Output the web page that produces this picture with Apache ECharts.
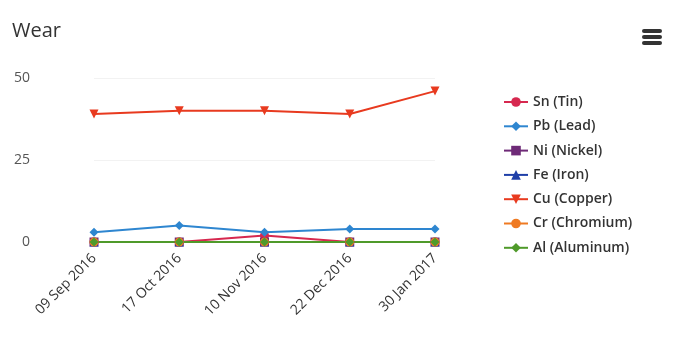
<!DOCTYPE html>
<html><head><meta charset="utf-8">
<script src="https://cdn.jsdelivr.net/npm/echarts@6/dist/echarts.min.js"></script>
<style>html,body{margin:0;padding:0;background:#fff}#c{width:678px;height:339px}</style>
</head><body><div id="c"></div>
<script>
var categories = ['09 Sep 2016','17 Oct 2016','10 Nov 2016','22 Dec 2016','30 Jan 2017'];
var sn = [0,0,2,0,0];
var pb = [3,5,3,4,4];
var ni = [0,0,0,0,0];
var fe = [0,0,0,0,0];
var cu = [39,40,40,39,46];
var cr = [0,0,0,0,0];
var al = [0,0,0,0,0];
var yTicks = [0,25,50];

var defs = [
  ['Sn (Tin)', sn, '#d6284f', 'circle'],
  ['Pb (Lead)', pb, '#2e86d0', 'diamond'],
  ['Ni (Nickel)', ni, '#6e2a77', 'rect'],
  ['Fe (Iron)', fe, '#1f3fa8', 'triangle'],
  ['Cu (Copper)', cu, '#e83a1f', 'path://M0,0 L10,0 L5,10 Z'],
  ['Cr (Chromium)', cr, '#ef7a22', 'circle'],
  ['Al (Aluminum)', al, '#4f9a2a', 'diamond']
];
var series = defs.map(function(d){
  return {name:d[0], type:'line', data:d[1], symbol:d[3], symbolSize:9,
    lineStyle:{width:2,color:d[2]}, itemStyle:{color:d[2]}};
});
var chart = echarts.init(document.getElementById('c'));
chart.setOption({
  animation:false,
  title:{text:'Wear', left:7, top:16, textStyle:{fontSize:20, fontWeight:'normal', color:'#333', fontFamily:'Open Sans'}},
  grid:{left:94, right:243, top:78, bottom:97},
  xAxis:{type:'category', data:categories, boundaryGap:false,
    axisLine:{show:false}, axisTick:{show:false},
    axisLabel:{rotate:45, margin:14, fontSize:14, color:'#333', fontFamily:'Open Sans'}},
  yAxis:{type:'value', min:yTicks[0], max:yTicks[yTicks.length-1], interval:25,
    splitLine:{lineStyle:{color:'#f2f2f2'}},
    axisLabel:{margin:64, fontSize:14, color:'#555', fontFamily:'Open Sans'}},
  legend:{orient:'vertical', left:498, top:90, itemWidth:24, itemHeight:12, itemGap:10.3,
    textStyle:{fontSize:14, fontWeight:600, color:'#333', fontFamily:'Open Sans'},
    data:defs.map(function(d){return d[0];})},
  graphic:[
    {type:'rect', left:642, top:29, shape:{width:20,height:4,r:2}, style:{fill:'#333'}},
    {type:'rect', left:642, top:35, shape:{width:20,height:4,r:2}, style:{fill:'#333'}},
    {type:'rect', left:642, top:41, shape:{width:20,height:4,r:2}, style:{fill:'#333'}}
  ],
  series:series
});
</script></body></html>
